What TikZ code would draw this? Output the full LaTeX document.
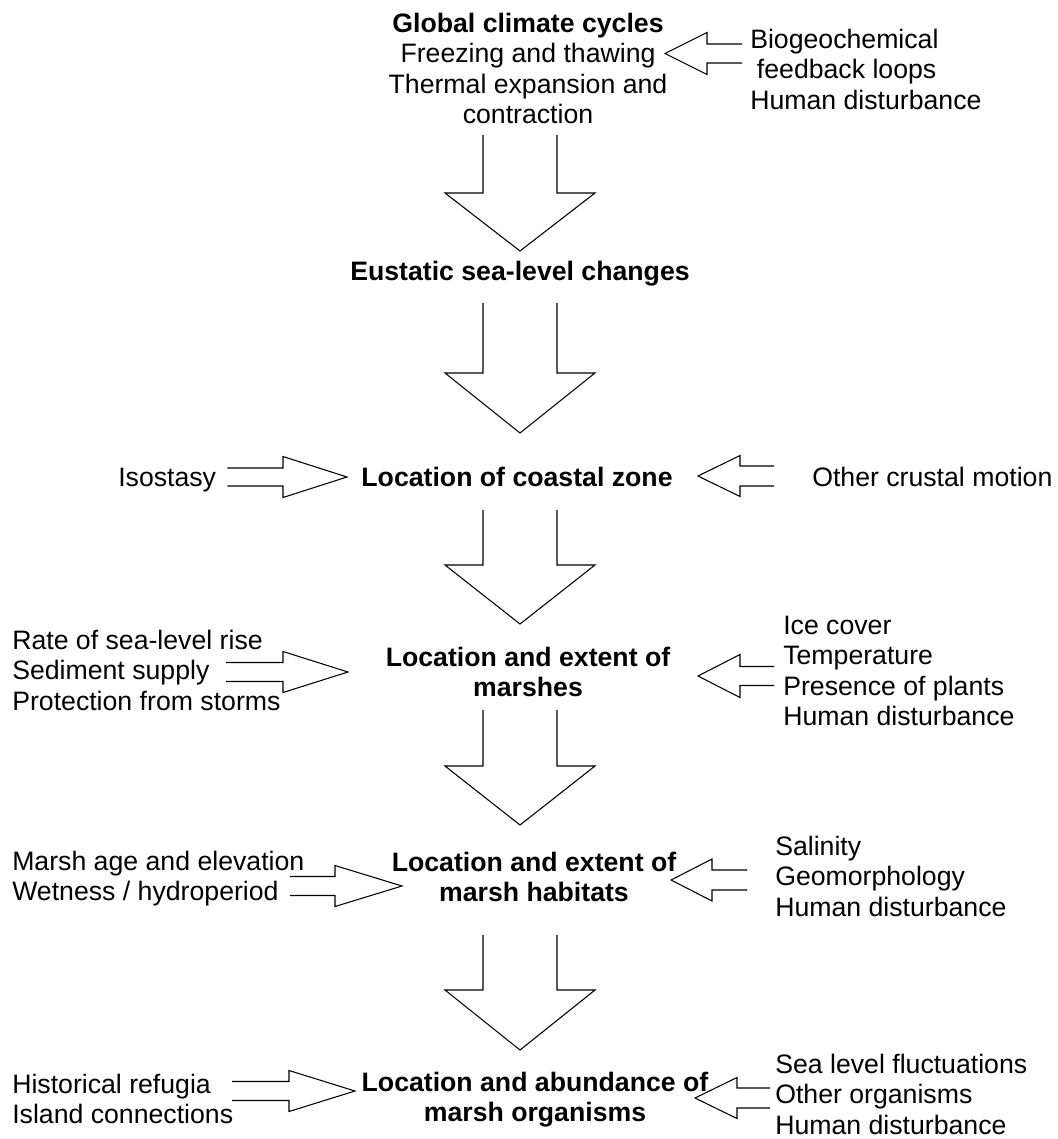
\documentclass[tikz,border=0pt]{standalone}
\usepackage{fontspec}
\setmainfont{Liberation Sans}
\usepackage{tikz}
\usetikzlibrary{calc}
\newcommand{\basefont}{\fontsize{20pt}{22.7pt}\selectfont}
\tikzstyle{stage} = [align=center, anchor=north, inner sep=0pt, font=\basefont\bfseries]
\tikzstyle{driver} = [align=left, anchor=north west, inner sep=0pt, font=\basefont]
\tikzstyle{outline} = [draw, line width=0.8pt, line join=miter]
% hollow block arrow: start, tip, shaft half width, head half width, head length (px)
\newcommand{\fatarrow}[5]{%
  \path #1 coordinate (fa-s) #2 coordinate (fa-t);
  \path ($(fa-t)!#5*0.75pt!(fa-s)$) coordinate (fa-b);
  \draw[outline] ($(fa-s)!#3*0.75pt!90:(fa-t)$) -- ($(fa-b)!#3*0.75pt!90:(fa-t)$)
    -- ($(fa-b)!#4*0.75pt!90:(fa-t)$) -- (fa-t) -- ($(fa-b)!#4*0.75pt!-90:(fa-t)$)
    -- ($(fa-b)!#3*0.75pt!-90:(fa-t)$) -- ($(fa-s)!#3*0.75pt!-90:(fa-t)$);
}

\begin{document}
\begin{tikzpicture}[x=0.75pt, y=-0.75pt]
\useasboundingbox (0,0) rectangle (1057,1139);

% main chain
\node [stage, font=\basefont] (climate) at (528,13) {{\bfseries Global climate cycles}\\Freezing and thawing\\Thermal expansion and\\contraction};
\node [stage] (eustatic) at (520,261) {Eustatic sea-level changes};
\node [stage] (coastal) at (517,467) {Location of coastal zone};
\node [stage] (marshes) at (528,647) {Location and extent of\\marshes};
\node [stage] (habitats) at (534,852) {Location and extent of\\marsh habitats};
\node [stage] (organisms) at (535,1072) {Location and abundance of\\marsh organisms};

% side factors
\node [driver] (bio) at (750,29) {Biogeochemical\\\hspace*{5pt}feedback loops\\Human disturbance};
\node [driver] (isostasy) at (118,468) {Isostasy};
\node [driver] (crustal) at (812,467) {Other crustal motion};
\node [driver] (supply) at (12,630) {Rate of sea-level rise\\Sediment supply\\Protection from storms};
\node [driver] (cover) at (783,616) {Ice cover\\Temperature\\Presence of plants\\Human disturbance};
\node [driver] (wetness) at (12,851) {Marsh age and elevation\\Wetness / hydroperiod};
\node [driver] (salinity) at (775,836) {Salinity\\Geomorphology\\Human disturbance};
\node [driver] (refugia) at (12,1074) {Historical refugia\\Island connections};
\node [driver] (fluct) at (775,1054) {Sea level fluctuations\\Other organisms\\Human disturbance};

% downward arrows
\fatarrow{($(climate.north)+(-8,122)$)}{($(eustatic.north)+(0,-10)$)}{37}{75}{58}
\fatarrow{($(eustatic.north)+(0,42)$)}{($(coastal.north)+(3,-34)$)}{37}{75}{60}
\fatarrow{($(coastal.north)+(3,43)$)}{($(marshes.north)+(-8,-23)$)}{37}{75}{59}
\fatarrow{($(marshes.north)+(-8,63)$)}{($(habitats.north)+(-14,-27)$)}{37}{75}{59}
\fatarrow{($(habitats.north)+(-14,83)$)}{($(organisms.north)+(-15,-22)$)}{37}{75}{60}

% side arrows
\fatarrow{($(bio.north west)+(-8,24.5)$)}{($(climate.north)+(137,40.5)$)}{9.5}{21}{42}
\fatarrow{($(isostasy.north east)+(11,9)$)}{($(coastal.north)+(-170,10)$)}{9}{20.5}{64}
\fatarrow{($(crustal.north west)+(-38,9)$)}{($(coastal.north)+(181,9)$)}{10}{20.5}{42}
\fatarrow{($(supply.north west)+(214,42)$)}{($(marshes.north)+(-180,25)$)}{9.5}{20.5}{65}
\fatarrow{($(cover.north west)+(-9,60)$)}{($(marshes.north)+(170,29)$)}{9.5}{21.5}{42}
\fatarrow{($(wetness.north west)+(278,35)$)}{($(habitats.north)+(-132,34)$)}{9.5}{20.5}{67}
\fatarrow{($(salinity.north west)+(-28,44)$)}{($(habitats.north)+(137,28)$)}{10}{21}{41}
\fatarrow{($(refugia.north west)+(220,17)$)}{($(organisms.north)+(-180,19)$)}{9.5}{20.5}{66}
\fatarrow{($(fluct.north west)+(-5,44)$)}{($(organisms.north)+(160,26)$)}{10}{20.5}{42}
\end{tikzpicture}
\end{document}
